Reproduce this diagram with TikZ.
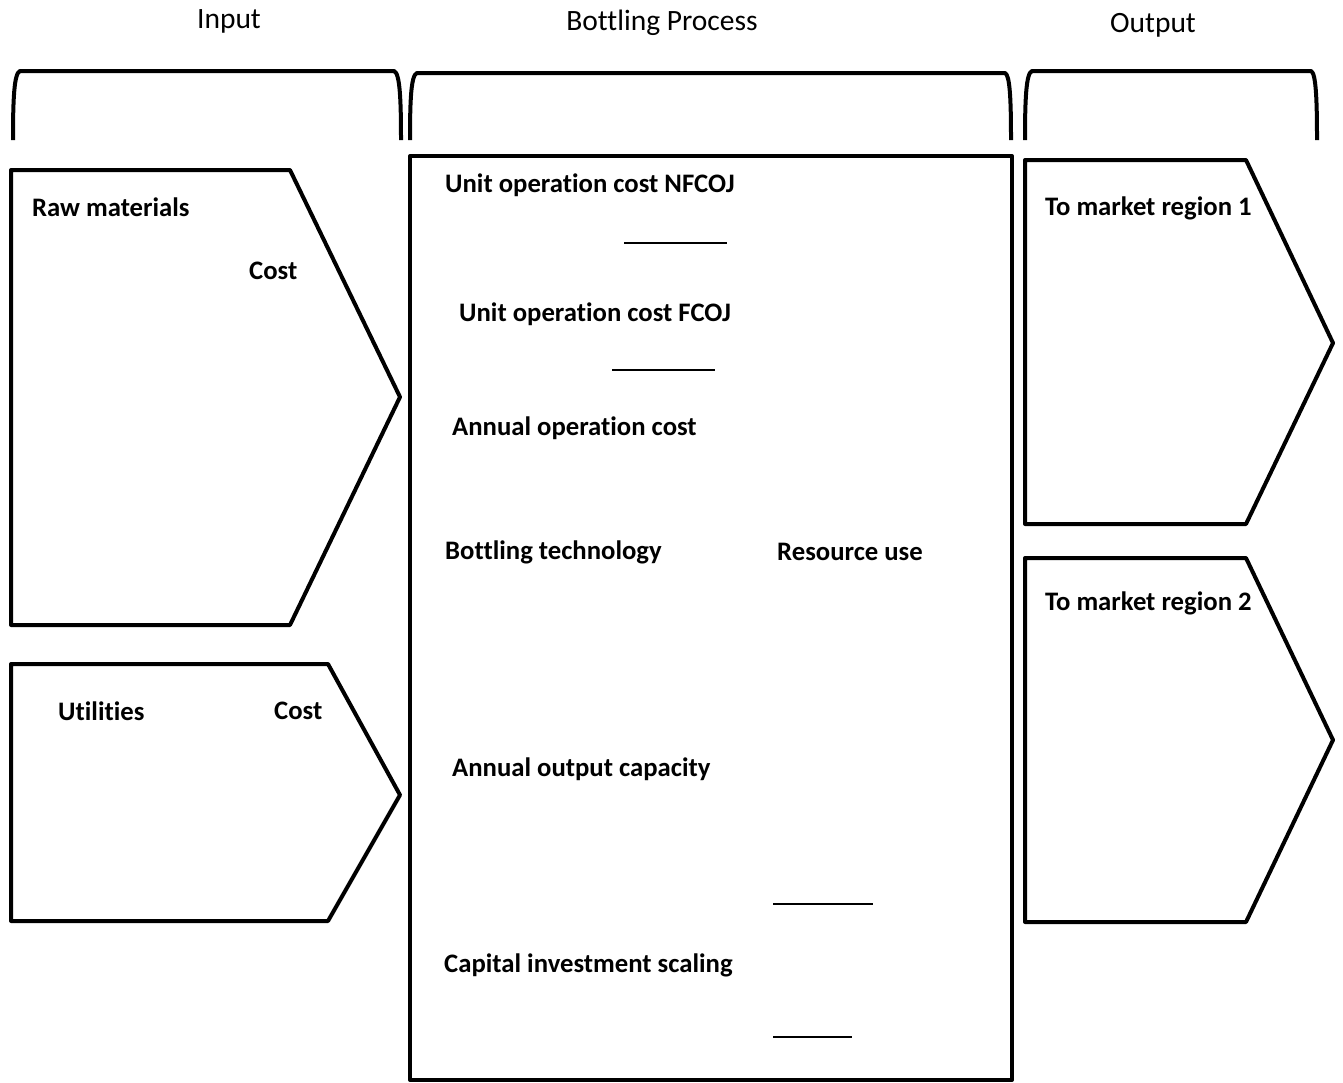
\documentclass[tikz,border=0pt]{standalone}
\usepackage{fontspec}
\setmainfont{Carlito}[Ligatures=NoCommon]
\begin{document}
\begin{tikzpicture}[x=1pt,y=-1pt,
  shp/.style={draw=black,line width=4pt,line join=round},
  brk/.style={draw=black,line width=4pt,line cap=butt,line join=round},
  thin/.style={draw=black,line width=1.6pt},
  ttl/.style={font=\fontsize{29.5}{33}\selectfont,inner sep=0pt},
  lbl/.style={font=\fontsize{26.7}{30}\selectfont\bfseries,inner sep=0pt,anchor=west}]
\useasboundingbox (0,0) rectangle (1343,1082);
% titles
\node[ttl] (tin) at (229,21) {Input};
\node[ttl] (tbp) at (662,23) {Bottling Process};
\node[ttl] (tout) at (1153,25) {Output};
% brackets
\draw[brk] (13,140) .. controls (13,100) and (14,73) .. (20,71) -- (394,71) .. controls (400,73) and (401,100) .. (401,140);
\draw[brk] (410,140) .. controls (410,100) and (411,75) .. (417,73) -- (1005,73) .. controls (1010,75) and (1011,100) .. (1011,140);
\draw[brk] (1025,140) .. controls (1025,100) and (1026,73) .. (1032,71) -- (1311,71) .. controls (1316,73) and (1317,100) .. (1317,140);
% input shapes
\draw[shp] (11,170) -- (290,170) -- (400,397) -- (290,625) -- (11,625) -- cycle;
\draw[shp] (11,664) -- (328,664) -- (400,795) -- (328,921) -- (11,921) -- cycle;
% central box
\draw[shp] (410,156) rectangle (1012,1080);
% output shapes
\draw[shp] (1025,160) -- (1246,160) -- (1333,343) -- (1246,524) -- (1025,524) -- cycle;
\draw[shp] (1025,558) -- (1246,558) -- (1333,740) -- (1246,922) -- (1025,922) -- cycle;
% thin lines
\coordinate (l1a) at (624,243); \coordinate (l1b) at (727,243);
\coordinate (l2a) at (612,370); \coordinate (l2b) at (715,370);
\coordinate (l3a) at (773,904); \coordinate (l3b) at (873,904);
\coordinate (l4a) at (773,1037); \coordinate (l4b) at (852,1037);
\draw[thin] (l1a) -- (l1b);
\draw[thin] (l2a) -- (l2b);
\draw[thin] (l3a) -- (l3b);
\draw[thin] (l4a) -- (l4b);
% labels
\node[lbl] (raw) at (32,207) {Raw materials};
\node[lbl] (cost1) at (249,271) {Cost};
\node[lbl] (util) at (58,711) {Utilities};
\node[lbl] (cost2) at (274,711) {Cost};
\node[lbl] (nfcoj) at (445,185) {Unit operation cost NFCOJ};
\node[lbl] (fcoj) at (459,314) {Unit operation cost FCOJ};
\node[lbl] (aoc) at (452,428) {Annual operation cost};
\node[lbl] (btech) at (445,552) {Bottling technology};
\node[lbl] (res) at (777,552) {Resource use};
\node[lbl] (aocap) at (452,769) {Annual output capacity};
\node[lbl] (cis) at (444,965) {Capital investment scaling};
\node[lbl] (m1) at (1045,208) {To market region 1};
\node[lbl] (m2) at (1045,603) {To market region 2};
\end{tikzpicture}
\end{document}
